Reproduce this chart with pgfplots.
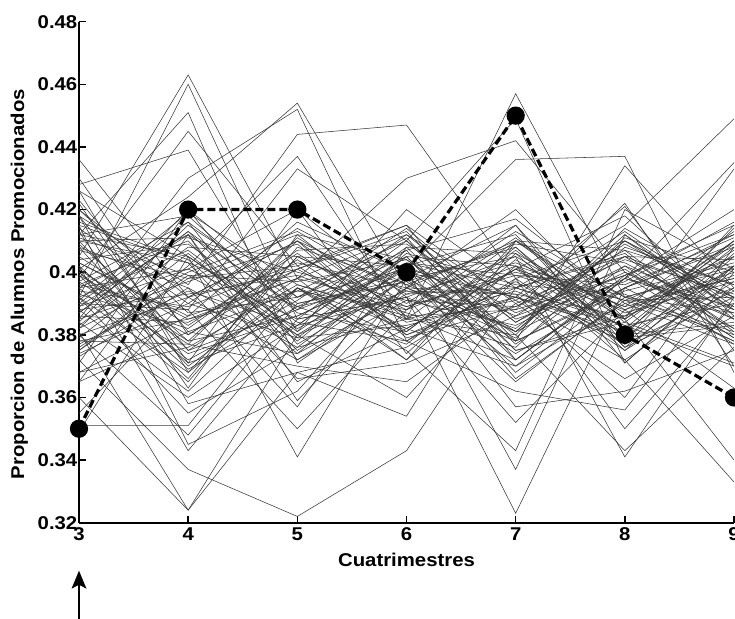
\documentclass[border=0pt]{standalone}
\usepackage{pgfplots}
\pgfplotsset{compat=1.18}
\usepackage{fontspec}
\setmainfont{Liberation Sans}[FakeStretch=1.1]
\newcommand\Lp[7]{\addplot[line width=0.55pt, black!78] coordinates {(3,#1)(4,#2)(5,#3)(6,#4)(7,#5)(8,#6)(9,#7)};}
\begin{document}
\begin{tikzpicture}
\begin{axis}[
  name=ax,
  scale only axis, width=655pt, height=501pt,
  xmin=3, xmax=9, ymin=0.32, ymax=0.48,
  axis lines=left, axis line style={-, line width=1.8pt},
  tick align=inside, major tick length=7pt,
  tick style={line width=1.6pt, black},
  xtick={3,4,5,6,7,8,9}, xticklabels={3,4,5,6,7,8,9},
  ytick={0.32,0.34,0.36,0.38,0.40,0.42,0.44,0.46,0.48},
  yticklabels={0.32,0.34,0.36,0.38,0.4,0.42,0.44,0.46,0.48},
  ticklabel style={font=\bfseries\fontsize{18.5}{18.5}\selectfont, inner sep=1.5pt},
  xticklabel style={yshift=-3pt},
  xlabel={Cuatrimestres},
  ylabel={Proporcion de Alumnos Promocionados},
  label style={font=\bfseries\fontsize{18.5}{18.5}\selectfont},
  xlabel style={at={(axis description cs:0.5,-0.0749)}, anchor=center},
  ylabel style={at={(axis description cs:-0.091,0.476)}, anchor=center},
  clip=false,
]
\Lp{0.405}{0.463}{0.398}{0.372}{0.410}{0.392}{0.401}
\Lp{0.392}{0.460}{0.385}{0.410}{0.377}{0.402}{0.388}
\Lp{0.412}{0.451}{0.371}{0.395}{0.420}{0.385}{0.410}
\Lp{0.398}{0.445}{0.402}{0.380}{0.392}{0.421}{0.375}
\Lp{0.428}{0.439}{0.381}{0.405}{0.368}{0.395}{0.412}
\Lp{0.385}{0.430}{0.452}{0.378}{0.401}{0.389}{0.398}
\Lp{0.401}{0.424}{0.454}{0.395}{0.382}{0.410}{0.392}
\Lp{0.418}{0.396}{0.444}{0.447}{0.398}{0.375}{0.405}
\Lp{0.375}{0.402}{0.437}{0.385}{0.457}{0.392}{0.381}
\Lp{0.390}{0.388}{0.433}{0.410}{0.449}{0.371}{0.402}
\Lp{0.410}{0.375}{0.398}{0.430}{0.442}{0.400}{0.385}
\Lp{0.382}{0.415}{0.392}{0.401}{0.436}{0.437}{0.368}
\Lp{0.395}{0.401}{0.385}{0.392}{0.378}{0.434}{0.395}
\Lp{0.436}{0.392}{0.410}{0.380}{0.395}{0.415}{0.449}
\Lp{0.430}{0.380}{0.401}{0.415}{0.372}{0.398}{0.435}
\Lp{0.422}{0.371}{0.420}{0.392}{0.405}{0.385}{0.433}
\Lp{0.349}{0.405}{0.341}{0.398}{0.381}{0.410}{0.392}
\Lp{0.351}{0.351}{0.395}{0.372}{0.402}{0.391}{0.380}
\Lp{0.360}{0.324}{0.380}{0.401}{0.392}{0.378}{0.415}
\Lp{0.372}{0.337}{0.322}{0.343}{0.395}{0.405}{0.392}
\Lp{0.381}{0.324}{0.368}{0.354}{0.410}{0.388}{0.400}
\Lp{0.402}{0.343}{0.385}{0.392}{0.323}{0.395}{0.378}
\Lp{0.415}{0.345}{0.362}{0.401}{0.337}{0.412}{0.385}
\Lp{0.388}{0.362}{0.395}{0.375}{0.343}{0.420}{0.401}
\Lp{0.396}{0.410}{0.375}{0.398}{0.405}{0.341}{0.392}
\Lp{0.407}{0.398}{0.412}{0.385}{0.380}{0.343}{0.376}
\Lp{0.378}{0.385}{0.398}{0.412}{0.391}{0.372}{0.333}
\Lp{0.420}{0.392}{0.372}{0.395}{0.410}{0.385}{0.340}
\Lp{0.365}{0.412}{0.389}{0.405}{0.372}{0.398}{0.420}
\Lp{0.392}{0.368}{0.405}{0.388}{0.415}{0.377}{0.394}
\Lp{0.412}{0.405}{0.380}{0.360}{0.398}{0.410}{0.388}
\Lp{0.384}{0.420}{0.392}{0.407}{0.366}{0.391}{0.405}
\Lp{0.401}{0.378}{0.410}{0.394}{0.388}{0.422}{0.370}
\Lp{0.395}{0.412}{0.365}{0.382}{0.401}{0.380}{0.414}
\Lp{0.376}{0.398}{0.402}{0.415}{0.390}{0.405}{0.382}
\Lp{0.418}{0.375}{0.388}{0.401}{0.378}{0.395}{0.409}
\Lp{0.389}{0.401}{0.420}{0.374}{0.406}{0.387}{0.397}
\Lp{0.403}{0.385}{0.394}{0.410}{0.384}{0.402}{0.379}
\Lp{0.371}{0.420}{0.377}{0.398}{0.415}{0.371}{0.401}
\Lp{0.426}{0.368}{0.395}{0.382}{0.401}{0.418}{0.386}
\Lp{0.392}{0.407}{0.381}{0.420}{0.395}{0.385}{0.407}
\Lp{0.380}{0.392}{0.410}{0.386}{0.372}{0.399}{0.415}
\Lp{0.409}{0.378}{0.386}{0.402}{0.412}{0.376}{0.392}
\Lp{0.397}{0.416}{0.372}{0.391}{0.389}{0.407}{0.381}
\Lp{0.386}{0.384}{0.401}{0.413}{0.378}{0.394}{0.403}
\Lp{0.415}{0.403}{0.389}{0.377}{0.404}{0.382}{0.410}
\Lp{0.374}{0.390}{0.414}{0.396}{0.381}{0.412}{0.388}
\Lp{0.402}{0.371}{0.383}{0.407}{0.417}{0.390}{0.377}
\Lp{0.391}{0.419}{0.396}{0.385}{0.394}{0.379}{0.402}
\Lp{0.408}{0.395}{0.376}{0.402}{0.386}{0.409}{0.391}
\Lp{0.383}{0.408}{0.405}{0.389}{0.399}{0.396}{0.411}
\Lp{0.420}{0.387}{0.392}{0.411}{0.375}{0.386}{0.399}
\Lp{0.399}{0.366}{0.408}{0.396}{0.409}{0.403}{0.385}
\Lp{0.387}{0.413}{0.379}{0.383}{0.392}{0.381}{0.408}
\Lp{0.411}{0.399}{0.397}{0.404}{0.380}{0.414}{0.394}
\Lp{0.378}{0.377}{0.411}{0.390}{0.413}{0.392}{0.387}
\Lp{0.404}{0.409}{0.384}{0.378}{0.397}{0.377}{0.406}
\Lp{0.393}{0.382}{0.407}{0.409}{0.387}{0.401}{0.379}
\Lp{0.416}{0.404}{0.374}{0.393}{0.403}{0.389}{0.413}
\Lp{0.388}{0.393}{0.399}{0.387}{0.376}{0.408}{0.396}
\Lp{0.368}{0.386}{0.416}{0.400}{0.392}{0.383}{0.390}
\Lp{0.400}{0.372}{0.391}{0.414}{0.385}{0.397}{0.416}
\Lp{0.412}{0.418}{0.387}{0.381}{0.407}{0.380}{0.384}
\Lp{0.394}{0.389}{0.403}{0.395}{0.379}{0.411}{0.400}
\Lp{0.379}{0.406}{0.378}{0.406}{0.396}{0.393}{0.378}
\Lp{0.423}{0.381}{0.394}{0.388}{0.411}{0.384}{0.409}
\Lp{0.385}{0.397}{0.409}{0.379}{0.389}{0.404}{0.393}
\Lp{0.397}{0.374}{0.386}{0.403}{0.399}{0.388}{0.405}
\Lp{0.410}{0.411}{0.400}{0.391}{0.383}{0.400}{0.382}
\Lp{0.377}{0.394}{0.383}{0.408}{0.406}{0.375}{0.397}
\Lp{0.405}{0.383}{0.406}{0.384}{0.391}{0.413}{0.389}
\Lp{0.390}{0.416}{0.390}{0.397}{0.374}{0.395}{0.408}
\Lp{0.414}{0.390}{0.379}{0.405}{0.402}{0.382}{0.395}
\Lp{0.382}{0.400}{0.413}{0.393}{0.395}{0.406}{0.380}
\Lp{0.368}{0.376}{0.396}{0.386}{0.388}{0.399}{0.412}
\Lp{0.426}{0.405}{0.382}{0.399}{0.370}{0.390}{0.398}
\Lp{0.399}{0.380}{0.404}{0.381}{0.408}{0.379}{0.383}
\Lp{0.387}{0.413}{0.388}{0.412}{0.384}{0.405}{0.404}
\Lp{0.403}{0.386}{0.398}{0.389}{0.400}{0.391}{0.392}
\Lp{0.375}{0.399}{0.380}{0.394}{0.393}{0.386}{0.410}
\Lp{0.413}{0.363}{0.412}{0.404}{0.381}{0.398}{0.387}
\Lp{0.392}{0.355}{0.376}{0.385}{0.410}{0.407}{0.396}
\Lp{0.380}{0.348}{0.390}{0.398}{0.365}{0.392}{0.402}
\Lp{0.418}{0.358}{0.368}{0.376}{0.398}{0.350}{0.390}
\Lp{0.395}{0.365}{0.405}{0.402}{0.357}{0.362}{0.375}
\Lp{0.408}{0.370}{0.395}{0.378}{0.362}{0.356}{0.400}
\Lp{0.384}{0.360}{0.383}{0.392}{0.352}{0.388}{0.363}
\Lp{0.401}{0.377}{0.370}{0.365}{0.390}{0.366}{0.386}
\Lp{0.373}{0.395}{0.357}{0.408}{0.375}{0.384}{0.371}
\Lp{0.396}{0.388}{0.350}{0.388}{0.402}{0.372}{0.395}
\Lp{0.410}{0.403}{0.366}{0.371}{0.386}{0.399}{0.377}
\Lp{0.389}{0.412}{0.359}{0.395}{0.393}{0.360}{0.408}
\Lp{0.355}{0.392}{0.401}{0.382}{0.370}{0.398}{0.389}
\Lp{0.365}{0.381}{0.374}{0.403}{0.395}{0.383}{0.370}
\Lp{0.400}{0.369}{0.389}{0.397}{0.408}{0.376}{0.402}
\addplot[black, line width=3.2pt, dash pattern=on 8pt off 4pt, mark=*, mark size=7.5pt, mark options={solid}]
  coordinates {(3,0.35)(4,0.42)(5,0.42)(6,0.40)(7,0.45)(8,0.38)(9,0.36)};
\end{axis}
\draw[line width=2.4pt] ([yshift=-110pt]ax.south west) -- ([yshift=-60pt]ax.south west);
\fill ([yshift=-48pt]ax.south west) -- ++(-7.5pt,-18pt) -- ++(7.5pt,4pt) -- ++(7.5pt,-4pt) -- cycle;
\pgfresetboundingbox
\path ([xshift=-79pt,yshift=-95.5pt]ax.south west) rectangle ([xshift=1pt,yshift=21.7pt]ax.north east);
\end{tikzpicture}
\end{document}
